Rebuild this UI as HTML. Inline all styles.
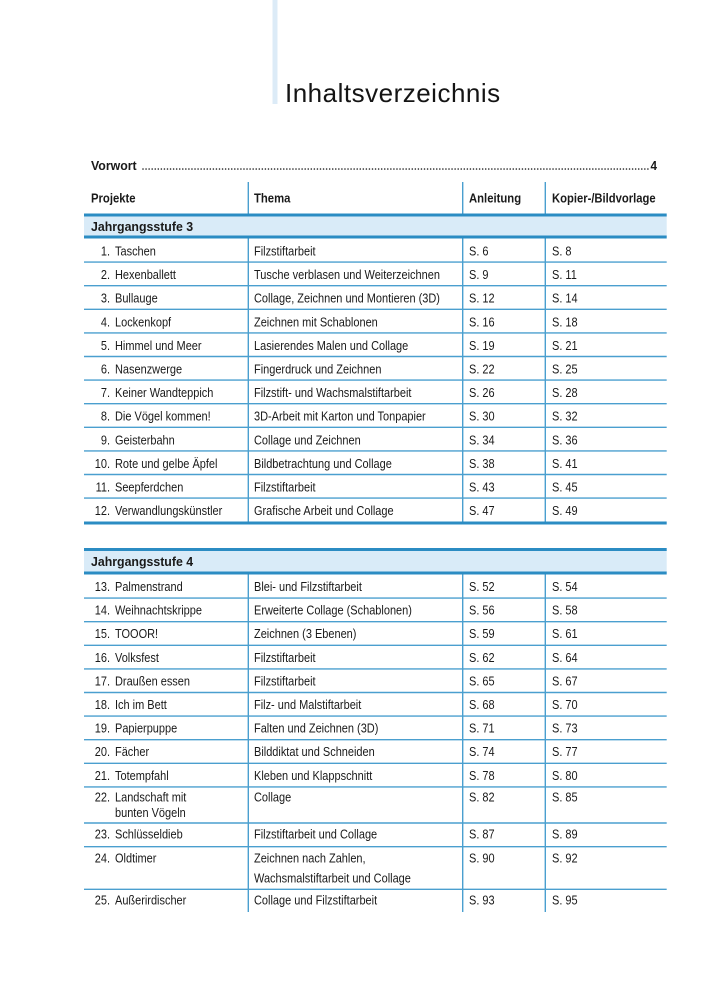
<!DOCTYPE html>
<html>
<head>
<meta charset="utf-8">
<style>
html,body{margin:0;padding:0;background:#fff;}
svg{display:block;}
.t{font-family:"Liberation Sans",sans-serif;font-size:13px;fill:#1a1a1a;}
.b{font-weight:bold;}
.ttl{font-family:"Liberation Sans",sans-serif;font-size:26px;fill:#141414;letter-spacing:0.5px;}
</style>
</head>
<body>
<svg width="707" height="1000" viewBox="0 0 707 1000" xmlns="http://www.w3.org/2000/svg">
<rect x="0" y="0" width="707" height="1000" fill="#fff"/>
<rect x="272.5" y="0" width="5" height="104" fill="#dcebf7"/>
<text class="ttl" x="285" y="102">Inhaltsverzeichnis</text>

<text class="t b" transform="translate(91 170) scale(.95 1)">Vorwort</text>
<line x1="143" y1="169" x2="650" y2="169" stroke="#1a1a1a" stroke-width="1.6" stroke-linecap="round" stroke-dasharray="0.01 3.05"/>
<text class="t b" text-anchor="end" transform="translate(657 170) scale(.9 1)">4</text>

<text class="t b" transform="translate(91 202.5) scale(.87 1)">Projekte</text>
<text class="t b" transform="translate(254 202.5) scale(.87 1)">Thema</text>
<text class="t b" transform="translate(469 202.5) scale(.87 1)">Anleitung</text>
<text class="t b" transform="translate(552 202.5) scale(.865 1)">Kopier-/Bildvorlage</text>

<g stroke="#4a9fcf" stroke-width="1.4">
<line x1="248.3" y1="182" x2="248.3" y2="214"/>
<line x1="462.7" y1="182" x2="462.7" y2="214"/>
<line x1="545.3" y1="182" x2="545.3" y2="214"/>
</g>

<rect x="84" y="215" width="582.7" height="22" fill="#d9ebf8"/>
<rect x="84" y="213.5" width="582.7" height="3" fill="#2b8cc3"/>
<rect x="84" y="235.5" width="582.7" height="3" fill="#2b8cc3"/>
<text class="t b" transform="translate(91 231) scale(.95 1)">Jahrgangsstufe 3</text>

<g stroke="#4a9fcf" stroke-width="1.4">
<line x1="248.3" y1="238.5" x2="248.3" y2="522"/>
<line x1="462.7" y1="238.5" x2="462.7" y2="522"/>
<line x1="545.3" y1="238.5" x2="545.3" y2="522"/>
<line x1="84" y1="262.1" x2="666.7" y2="262.1"/>
<line x1="84" y1="285.7" x2="666.7" y2="285.7"/>
<line x1="84" y1="309.3" x2="666.7" y2="309.3"/>
<line x1="84" y1="332.9" x2="666.7" y2="332.9"/>
<line x1="84" y1="356.5" x2="666.7" y2="356.5"/>
<line x1="84" y1="380.1" x2="666.7" y2="380.1"/>
<line x1="84" y1="403.7" x2="666.7" y2="403.7"/>
<line x1="84" y1="427.3" x2="666.7" y2="427.3"/>
<line x1="84" y1="450.9" x2="666.7" y2="450.9"/>
<line x1="84" y1="474.5" x2="666.7" y2="474.5"/>
<line x1="84" y1="498.1" x2="666.7" y2="498.1"/>
</g>
<rect x="84" y="521.5" width="582.7" height="3" fill="#2b8cc3"/>

<g class="t">
<text text-anchor="end" transform="translate(110 255.5) scale(.845 1)">1.</text>
<text transform="translate(115 255.5) scale(.845 1)">Taschen</text>
<text transform="translate(254 255.5) scale(.845 1)">Filzstiftarbeit</text>
<text transform="translate(469 255.5) scale(.845 1)">S. 6</text>
<text transform="translate(552 255.5) scale(.845 1)">S. 8</text>

<text text-anchor="end" transform="translate(110 279.1) scale(.845 1)">2.</text>
<text transform="translate(115 279.1) scale(.845 1)">Hexenballett</text>
<text transform="translate(254 279.1) scale(.845 1)">Tusche verblasen und Weiterzeichnen</text>
<text transform="translate(469 279.1) scale(.845 1)">S. 9</text>
<text transform="translate(552 279.1) scale(.845 1)">S. 11</text>

<text text-anchor="end" transform="translate(110 302.7) scale(.845 1)">3.</text>
<text transform="translate(115 302.7) scale(.845 1)">Bullauge</text>
<text transform="translate(254 302.7) scale(.845 1)">Collage, Zeichnen und Montieren (3D)</text>
<text transform="translate(469 302.7) scale(.845 1)">S. 12</text>
<text transform="translate(552 302.7) scale(.845 1)">S. 14</text>

<text text-anchor="end" transform="translate(110 326.3) scale(.845 1)">4.</text>
<text transform="translate(115 326.3) scale(.845 1)">Lockenkopf</text>
<text transform="translate(254 326.3) scale(.845 1)">Zeichnen mit Schablonen</text>
<text transform="translate(469 326.3) scale(.845 1)">S. 16</text>
<text transform="translate(552 326.3) scale(.845 1)">S. 18</text>

<text text-anchor="end" transform="translate(110 349.9) scale(.845 1)">5.</text>
<text transform="translate(115 349.9) scale(.845 1)">Himmel und Meer</text>
<text transform="translate(254 349.9) scale(.845 1)">Lasierendes Malen und Collage</text>
<text transform="translate(469 349.9) scale(.845 1)">S. 19</text>
<text transform="translate(552 349.9) scale(.845 1)">S. 21</text>

<text text-anchor="end" transform="translate(110 373.5) scale(.845 1)">6.</text>
<text transform="translate(115 373.5) scale(.845 1)">Nasenzwerge</text>
<text transform="translate(254 373.5) scale(.845 1)">Fingerdruck und Zeichnen</text>
<text transform="translate(469 373.5) scale(.845 1)">S. 22</text>
<text transform="translate(552 373.5) scale(.845 1)">S. 25</text>

<text text-anchor="end" transform="translate(110 397.1) scale(.845 1)">7.</text>
<text transform="translate(115 397.1) scale(.845 1)">Keiner Wandteppich</text>
<text transform="translate(254 397.1) scale(.845 1)">Filzstift- und Wachsmalstiftarbeit</text>
<text transform="translate(469 397.1) scale(.845 1)">S. 26</text>
<text transform="translate(552 397.1) scale(.845 1)">S. 28</text>

<text text-anchor="end" transform="translate(110 420.7) scale(.845 1)">8.</text>
<text transform="translate(115 420.7) scale(.845 1)">Die Vögel kommen!</text>
<text transform="translate(254 420.7) scale(.845 1)">3D-Arbeit mit Karton und Tonpapier</text>
<text transform="translate(469 420.7) scale(.845 1)">S. 30</text>
<text transform="translate(552 420.7) scale(.845 1)">S. 32</text>

<text text-anchor="end" transform="translate(110 444.3) scale(.845 1)">9.</text>
<text transform="translate(115 444.3) scale(.845 1)">Geisterbahn</text>
<text transform="translate(254 444.3) scale(.845 1)">Collage und Zeichnen</text>
<text transform="translate(469 444.3) scale(.845 1)">S. 34</text>
<text transform="translate(552 444.3) scale(.845 1)">S. 36</text>

<text text-anchor="end" transform="translate(110 467.9) scale(.845 1)">10.</text>
<text transform="translate(115 467.9) scale(.845 1)">Rote und gelbe Äpfel</text>
<text transform="translate(254 467.9) scale(.845 1)">Bildbetrachtung und Collage</text>
<text transform="translate(469 467.9) scale(.845 1)">S. 38</text>
<text transform="translate(552 467.9) scale(.845 1)">S. 41</text>

<text text-anchor="end" transform="translate(110 491.5) scale(.845 1)">11.</text>
<text transform="translate(115 491.5) scale(.845 1)">Seepferdchen</text>
<text transform="translate(254 491.5) scale(.845 1)">Filzstiftarbeit</text>
<text transform="translate(469 491.5) scale(.845 1)">S. 43</text>
<text transform="translate(552 491.5) scale(.845 1)">S. 45</text>

<text text-anchor="end" transform="translate(110 515.1) scale(.845 1)">12.</text>
<text transform="translate(115 515.1) scale(.845 1)">Verwandlungskünstler</text>
<text transform="translate(254 515.1) scale(.845 1)">Grafische Arbeit und Collage</text>
<text transform="translate(469 515.1) scale(.845 1)">S. 47</text>
<text transform="translate(552 515.1) scale(.845 1)">S. 49</text>
</g>

<rect x="84" y="550" width="582.7" height="22.5" fill="#d9ebf8"/>
<rect x="84" y="548" width="582.7" height="3" fill="#2b8cc3"/>
<rect x="84" y="571.5" width="582.7" height="3" fill="#2b8cc3"/>
<text class="t b" transform="translate(91 566) scale(.95 1)">Jahrgangsstufe 4</text>

<g stroke="#4a9fcf" stroke-width="1.4">
<line x1="248.3" y1="574.5" x2="248.3" y2="912"/>
<line x1="462.7" y1="574.5" x2="462.7" y2="912"/>
<line x1="545.3" y1="574.5" x2="545.3" y2="912"/>
<line x1="84" y1="598.1" x2="666.7" y2="598.1"/>
<line x1="84" y1="621.7" x2="666.7" y2="621.7"/>
<line x1="84" y1="645.3" x2="666.7" y2="645.3"/>
<line x1="84" y1="668.9" x2="666.7" y2="668.9"/>
<line x1="84" y1="692.5" x2="666.7" y2="692.5"/>
<line x1="84" y1="716.1" x2="666.7" y2="716.1"/>
<line x1="84" y1="739.7" x2="666.7" y2="739.7"/>
<line x1="84" y1="763.3" x2="666.7" y2="763.3"/>
<line x1="84" y1="786.9" x2="666.7" y2="786.9"/>
<line x1="84" y1="823" x2="666.7" y2="823"/>
<line x1="84" y1="846.7" x2="666.7" y2="846.7"/>
<line x1="84" y1="889.3" x2="666.7" y2="889.3"/>
</g>

<g class="t">
<text text-anchor="end" transform="translate(110 591) scale(.845 1)">13.</text>
<text transform="translate(115 591) scale(.845 1)">Palmenstrand</text>
<text transform="translate(254 591) scale(.845 1)">Blei- und Filzstiftarbeit</text>
<text transform="translate(469 591) scale(.845 1)">S. 52</text>
<text transform="translate(552 591) scale(.845 1)">S. 54</text>

<text text-anchor="end" transform="translate(110 614.6) scale(.845 1)">14.</text>
<text transform="translate(115 614.6) scale(.845 1)">Weihnachtskrippe</text>
<text transform="translate(254 614.6) scale(.845 1)">Erweiterte Collage (Schablonen)</text>
<text transform="translate(469 614.6) scale(.845 1)">S. 56</text>
<text transform="translate(552 614.6) scale(.845 1)">S. 58</text>

<text text-anchor="end" transform="translate(110 638.2) scale(.845 1)">15.</text>
<text transform="translate(115 638.2) scale(.845 1)">TOOOR!</text>
<text transform="translate(254 638.2) scale(.845 1)">Zeichnen (3 Ebenen)</text>
<text transform="translate(469 638.2) scale(.845 1)">S. 59</text>
<text transform="translate(552 638.2) scale(.845 1)">S. 61</text>

<text text-anchor="end" transform="translate(110 661.8) scale(.845 1)">16.</text>
<text transform="translate(115 661.8) scale(.845 1)">Volksfest</text>
<text transform="translate(254 661.8) scale(.845 1)">Filzstiftarbeit</text>
<text transform="translate(469 661.8) scale(.845 1)">S. 62</text>
<text transform="translate(552 661.8) scale(.845 1)">S. 64</text>

<text text-anchor="end" transform="translate(110 685.4) scale(.845 1)">17.</text>
<text transform="translate(115 685.4) scale(.845 1)">Draußen essen</text>
<text transform="translate(254 685.4) scale(.845 1)">Filzstiftarbeit</text>
<text transform="translate(469 685.4) scale(.845 1)">S. 65</text>
<text transform="translate(552 685.4) scale(.845 1)">S. 67</text>

<text text-anchor="end" transform="translate(110 709) scale(.845 1)">18.</text>
<text transform="translate(115 709) scale(.845 1)">Ich im Bett</text>
<text transform="translate(254 709) scale(.845 1)">Filz- und Malstiftarbeit</text>
<text transform="translate(469 709) scale(.845 1)">S. 68</text>
<text transform="translate(552 709) scale(.845 1)">S. 70</text>

<text text-anchor="end" transform="translate(110 732.6) scale(.845 1)">19.</text>
<text transform="translate(115 732.6) scale(.845 1)">Papierpuppe</text>
<text transform="translate(254 732.6) scale(.845 1)">Falten und Zeichnen (3D)</text>
<text transform="translate(469 732.6) scale(.845 1)">S. 71</text>
<text transform="translate(552 732.6) scale(.845 1)">S. 73</text>

<text text-anchor="end" transform="translate(110 756.2) scale(.845 1)">20.</text>
<text transform="translate(115 756.2) scale(.845 1)">Fächer</text>
<text transform="translate(254 756.2) scale(.845 1)">Bilddiktat und Schneiden</text>
<text transform="translate(469 756.2) scale(.845 1)">S. 74</text>
<text transform="translate(552 756.2) scale(.845 1)">S. 77</text>

<text text-anchor="end" transform="translate(110 779.8) scale(.845 1)">21.</text>
<text transform="translate(115 779.8) scale(.845 1)">Totempfahl</text>
<text transform="translate(254 779.8) scale(.845 1)">Kleben und Klappschnitt</text>
<text transform="translate(469 779.8) scale(.845 1)">S. 78</text>
<text transform="translate(552 779.8) scale(.845 1)">S. 80</text>

<text text-anchor="end" transform="translate(110 801.5) scale(.845 1)">22.</text>
<text transform="translate(115 801.5) scale(.845 1)">Landschaft mit</text>
<text transform="translate(115 817) scale(.845 1)">bunten Vögeln</text>
<text transform="translate(254 801.5) scale(.845 1)">Collage</text>
<text transform="translate(469 801.5) scale(.845 1)">S. 82</text>
<text transform="translate(552 801.5) scale(.845 1)">S. 85</text>

<text text-anchor="end" transform="translate(110 838.7) scale(.845 1)">23.</text>
<text transform="translate(115 838.7) scale(.845 1)">Schlüsseldieb</text>
<text transform="translate(254 838.7) scale(.845 1)">Filzstiftarbeit und Collage</text>
<text transform="translate(469 838.7) scale(.845 1)">S. 87</text>
<text transform="translate(552 838.7) scale(.845 1)">S. 89</text>

<text text-anchor="end" transform="translate(110 862.5) scale(.845 1)">24.</text>
<text transform="translate(115 862.5) scale(.845 1)">Oldtimer</text>
<text transform="translate(254 862.5) scale(.845 1)">Zeichnen nach Zahlen,</text>
<text transform="translate(254 882.5) scale(.845 1)">Wachsmalstiftarbeit und Collage</text>
<text transform="translate(469 862.5) scale(.845 1)">S. 90</text>
<text transform="translate(552 862.5) scale(.845 1)">S. 92</text>

<text text-anchor="end" transform="translate(110 904.5) scale(.845 1)">25.</text>
<text transform="translate(115 904.5) scale(.845 1)">Außerirdischer</text>
<text transform="translate(254 904.5) scale(.845 1)">Collage und Filzstiftarbeit</text>
<text transform="translate(469 904.5) scale(.845 1)">S. 93</text>
<text transform="translate(552 904.5) scale(.845 1)">S. 95</text>
</g>
</svg>
</body>
</html>
